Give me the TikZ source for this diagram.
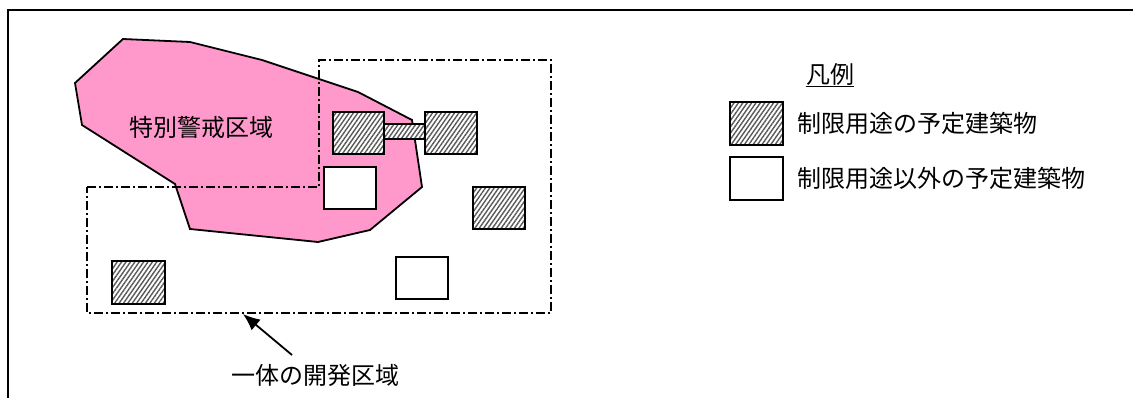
\documentclass[tikz,border=0pt]{standalone}
\usepackage{fontspec}
\setmainfont{Noto Sans CJK JP}
\usetikzlibrary{patterns.meta,arrows.meta}
\definecolor{pinkzone}{RGB}{255,153,204}
\tikzset{
  bld/.style={draw=black,line width=2.1pt,inner sep=0pt,minimum width=52pt,minimum height=42pt},
  hatched/.style={bld,preaction={fill=white},pattern={Lines[angle=55,distance=3.6pt,line width=1.4pt]},pattern color=black!65},
  plainbox/.style={bld,fill=white},
  lbl/.style={font=\fontsize{24}{28}\selectfont,inner sep=0pt},
  dashdot/.style={line width=1.8pt,dash pattern=on 9pt off 3pt on 2pt off 3pt},
  zone/.style={draw=black,line width=1.8pt,fill=pinkzone,line join=miter},
}
\begin{document}
\begin{tikzpicture}[x=1pt,y=-1pt]
\useasboundingbox (0,0) rectangle (1133,398);
\draw[line width=1.8pt] (8,398) -- (8,10) -- (1133,10);
% special caution zone
\draw[zone] (123,39) -- (190,42) -- (262,60) -- (358,92) -- (412,120) -- (422,187) -- (370,230) -- (318,242) -- (190,229) -- (175,184) -- (82,125) -- (75,83) -- cycle;
% integrated development area
\draw[dashdot] (87,187) -- (319,187) -- (319,60) -- (551,60) -- (551,313) -- (87,313) -- cycle;
\node[lbl] (zonelbl) at (201,127) {特別警戒区域};
% buildings
\node[hatched,minimum width=41pt,minimum height=15pt] (bar) at (404.5,131.5) {};
\node[hatched,minimum width=51pt] (A) at (358.5,133) {};
\node[hatched] (B) at (451,133) {};
\node[hatched] (C) at (499,208) {};
\node[plainbox] (D) at (350,188) {};
\node[plainbox] (E) at (422,278) {};
\node[hatched,minimum width=53pt,minimum height=43pt] (F) at (138.5,282.5) {};
% arrow and label
\coordinate (tip) at (243,314);
\coordinate (tail) at (292,355);
\draw[-{Latex[length=17pt,width=14pt]},line width=1.8pt] (tail) -- (tip);
\node[lbl] (devlbl) at (315,375) {一体の開発区域};
% legend
\node[lbl] (legtitle) at (830,75) {\underline{凡例}};
\node[hatched,minimum width=53pt,minimum height=43pt] (LH) at (756.5,123.5) {};
\node[plainbox,minimum width=53pt,minimum height=43pt] (LW) at (756.5,178.5) {};
\node[lbl,anchor=west] (LHt) at (797,123.5) {制限用途の予定建築物};
\node[lbl,anchor=west] (LWt) at (797,178.5) {制限用途以外の予定建築物};
\end{tikzpicture}
\end{document}
